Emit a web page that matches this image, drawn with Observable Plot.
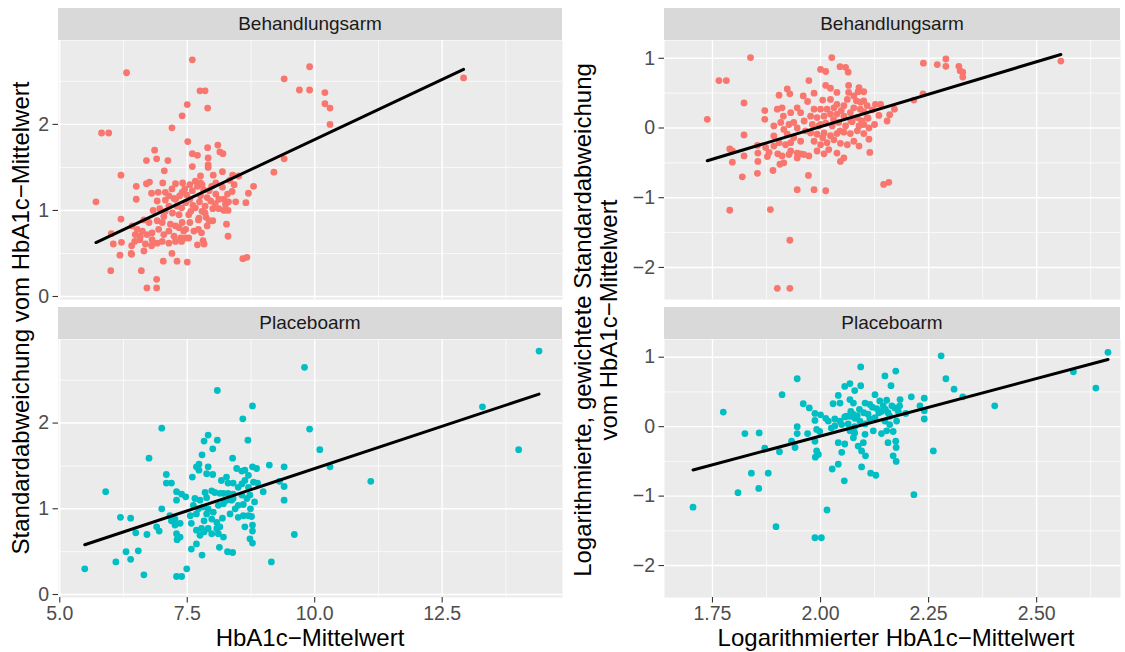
<!DOCTYPE html>
<html><head><meta charset="utf-8">
<script src="https://cdn.jsdelivr.net/npm/d3@7"></script>
<script src="https://cdn.jsdelivr.net/npm/@observablehq/plot@0.6"></script>
<style>
body{margin:0;background:#fff;}
#chart{position:relative;width:1125px;height:652px;overflow:hidden;font-family:"Liberation Sans",Arial,sans-serif;background:#fff;}
.strip{position:absolute;background:#D9D9D9;color:#1A1A1A;font-size:19px;display:flex;align-items:center;justify-content:center;}
.title{position:absolute;color:#000;font-size:24px;white-space:pre;text-align:center;line-height:26px;}
</style></head><body><div id="chart"></div>
<script>
// ---------- data ----------
const facetLabels = ["Behandlungsarm", "Placeboarm"];
const xTitleLeft = "HbA1c\u2212Mittelwert";
const yTitleLeft = "Standardabweichung vom HbA1c\u2212Mittelwert";
const xTitleRight = "Logarithmierter HbA1c\u2212Mittelwert";
const yTitleRight = "Logarithmierte, gewichtete Standardabweichung\nvom HbA1c\u2212Mittelwert";

const leftXTicks = [5, 7.5, 10, 12.5];
const leftXMinor = [6.25, 8.75, 11.25, 13.75];
const leftYTicks = [0, 1, 2];
const leftYMinor = [0.5, 1.5, 2.5];
const rightXTicks = [1.75, 2.0, 2.25, 2.5];
const rightXMinor = [1.875, 2.125, 2.375, 2.625];
const rightYTicks = [-2, -1, 0, 1];
const rightYMinor = [-1.5, -0.5, 0.5];

// HbA1c mean vs SD, treatment arm
const behandlung = [
[5.71,1.10],[5.82,1.90],[5.96,1.90],[6.31,2.60],[7.60,2.75],[7.75,2.39],[7.85,2.39],[7.50,2.23],[7.90,2.19],[7.40,2.10],
[7.20,1.96],[9.40,2.53],[9.90,2.67],[9.70,2.40],[9.90,2.40],[10.20,2.37],[10.20,2.24],[10.30,2.19],[10.30,2.00],[12.92,2.54],
[9.40,1.60],[9.20,1.445],[8.80,1.28],[8.70,1.20],[8.65,1.09],[8.59,0.44],[8.67,0.455],[6.20,1.41],[6.20,0.90],[6.01,0.73],
[6.05,0.61],[6.18,0.48],[6.00,0.30],[6.71,0.10],[6.90,0.10],[6.90,0.20],[6.60,0.30],[7.03,0.41],[7.30,0.41],[7.50,0.40],
[7.20,0.50],[6.40,0.50],[8.30,0.70],[8.27,0.84],[8.30,1.00],
[7.51,1.80],[6.86,1.70],[6.70,1.58],[6.90,1.60],[7.12,1.58],[7.05,1.46],[7.60,1.66],[7.70,1.64],[7.90,1.73],[8.10,1.76],
[7.91,1.61],[7.91,1.53],[8.14,1.68],[8.20,1.66],[7.60,1.51],[7.91,1.50],[8.19,1.45],[8.01,1.41],[8.39,1.41],[8.51,1.40],
[7.76,1.40],[7.66,1.34],[6.76,1.33],[6.70,1.31],[6.50,1.28],[6.50,1.13],[6.80,1.20],[6.93,1.21],[7.07,1.21],[7.02,1.32],
[7.27,1.31],[7.41,1.32],[7.55,1.30],[7.70,1.28],[7.79,1.30],[7.98,1.28],[6.91,1.11],[7.07,1.12],[7.24,1.14],[7.40,1.21],
[7.49,1.18],[7.60,1.23],[7.76,1.17],[7.89,1.15],[7.96,1.11],[7.47,1.09],[7.61,1.06],[7.74,1.10],[8.22,1.13],[8.29,1.19],
[8.31,1.10],[8.22,1.00],[8.12,1.02],[8.00,1.02],[7.85,0.97],[7.73,0.91],[7.93,0.88],[7.87,0.92],[7.72,0.89],[7.53,0.95],
[7.55,0.86],[7.47,0.78],[6.83,1.00],[6.96,1.02],[7.07,0.99],[7.21,0.97],[7.34,0.95],[7.04,0.93],[6.65,0.89],[6.75,0.86],
[6.91,0.88],[7.01,0.86],[7.17,0.84],[7.27,0.82],[7.40,0.86],[7.34,0.80],[7.43,0.76],[6.42,0.82],[6.52,0.78],[6.62,0.76],
[6.48,0.72],[6.58,0.70],[6.71,0.72],[6.81,0.74],[6.94,0.78],[7.04,0.72],[7.14,0.76],[7.24,0.70],[7.37,0.68],[7.53,0.68],
[7.63,0.76],[7.72,0.78],[7.81,0.65],[7.70,0.60],[7.83,0.61],[6.80,0.59],[6.68,0.61],[6.65,0.53],[6.41,0.59],[6.41,0.49],
[6.21,0.63],[7.30,1.05],[7.39,1.03],[7.14,1.05],[7.27,1.13],[7.14,1.17],[7.57,0.99],[7.66,1.03],[7.79,0.99],[8.06,1.19],
[8.12,1.13],[7.93,1.23],[7.76,1.32],[8.06,1.32],[8.19,1.27],[7.89,0.82],[8.00,0.88],[7.78,0.74],[7.01,0.64],[7.14,0.62],
[7.27,0.64],[6.47,0.64],[6.57,0.66],[6.81,0.66],[6.91,0.62],[7.39,0.64],[7.47,0.68],
[7.20,1.25],[7.35,1.17],[7.45,1.25],[7.85,1.05],[8.05,1.08],[8.25,1.07],[7.55,1.13],[7.82,1.24],[8.45,1.10],[8.38,1.22],
[8.42,1.30],[8.33,1.35]
];

// HbA1c mean vs SD, placebo arm
const placebo = [
[5.49,0.30],[5.90,1.20],[6.10,0.38],[6.19,0.90],[6.39,0.89],[6.30,0.50],[6.39,0.41],[6.54,0.51],[6.49,0.72],[6.71,0.70],
[6.65,0.23],[6.75,1.59],[7.00,1.94],[7.00,1.00],[6.90,0.79],[6.95,0.74],[7.09,1.40],[7.09,1.30],[7.19,1.30],[7.29,1.20],
[7.29,1.10],[7.39,1.17],[7.47,1.14],[7.16,0.92],[7.26,0.88],[7.19,0.86],[7.36,0.83],[7.26,0.81],[7.29,0.71],[7.30,0.64],
[7.36,0.67],[7.29,0.21],[7.39,0.21],[7.49,0.30],[7.60,1.37],[7.68,1.49],[7.73,1.52],[7.73,1.45],[7.91,1.49],[7.88,1.41],
[8.00,1.40],[7.79,1.63],[7.83,1.79],[7.91,1.86],[8.00,1.70],[8.09,1.80],[8.09,2.38],[7.65,1.12],[7.75,1.10],[7.85,1.19],
[7.88,1.13],[7.98,1.21],[8.04,1.19],[8.14,1.18],[8.21,1.18],[8.30,1.18],[8.40,1.17],[7.62,1.04],[7.72,1.00],[7.81,1.02],
[7.91,1.00],[8.01,0.96],[8.11,1.04],[8.21,1.06],[8.27,1.10],[8.37,1.10],[7.56,0.92],[7.68,0.94],[7.88,0.94],[7.98,0.88],
[8.08,0.84],[7.58,0.83],[7.68,0.75],[7.78,0.77],[7.83,0.86],[7.75,0.69],[7.83,0.73],[7.68,0.59],[7.58,0.53],[7.79,0.46],
[8.08,0.77],[8.11,0.71],[8.21,0.67],[8.13,0.55],[8.29,0.50],[8.39,0.49],[8.17,1.33],[8.27,1.37],[8.30,1.30],[8.39,1.59],
[8.47,1.47],[8.57,1.44],[8.63,1.45],[8.70,1.39],[8.63,1.33],[8.40,1.30],[8.50,1.25],[8.57,1.29],[8.59,2.05],[8.69,1.80],
[8.78,2.20],[8.78,1.49],[8.86,1.47],[9.11,1.51],[8.80,1.31],[8.88,1.30],[8.99,1.20],[8.70,1.25],[8.73,1.16],[8.67,1.12],
[8.57,1.16],[8.60,1.05],[8.50,1.04],[8.40,1.12],[8.44,1.00],[8.34,0.94],[8.50,0.90],[8.60,0.92],[8.70,0.92],[8.76,0.91],
[8.74,1.00],[8.82,1.08],[8.63,0.79],[8.78,0.81],[8.78,0.74],[8.73,0.65],[8.78,0.60],[9.15,0.38],[8.19,0.89],[8.14,0.79],
[7.91,0.77],[7.98,0.71],
[9.80,2.65],[9.90,1.93],[10.10,1.69],[10.30,1.49],[9.60,0.70],[9.40,1.49],[9.40,1.26],[9.40,1.10],[9.31,1.32],[11.10,1.32],
[13.29,2.19],[14.00,1.69],[14.40,2.84]
];

// log HbA1c mean vs log weighted SD, treatment arm
const logBehandlung = [
[1.738,0.125],[1.765,0.68],[1.782,0.68],[1.838,1.01],[1.823,0.36],[1.823,-0.10],[1.79,-0.30],[1.796,-0.33],[1.796,-0.49],[1.823,-0.40],
[1.819,-0.70],[1.79,-1.18],[1.854,-0.25],[1.854,-0.65],[1.855,-0.36],[1.855,-0.48],[1.871,0.25],[1.871,0.125],[1.884,-1.17],[1.89,-0.61],
[1.892,-0.115],[1.904,0.47],[1.923,0.56],[1.929,0.49],[1.90,0.27],[1.911,0.29],[1.929,-1.61],[1.90,-2.30],[1.929,-2.30],[1.873,-0.28],
[1.881,-0.35],[1.877,-0.41],[1.901,-0.37],[1.911,-0.40],[1.906,-0.52],[1.915,-0.50],[1.892,-0.26],[1.904,-0.21],[1.919,-0.24],[1.914,0.17],
[1.931,0.22],[1.946,0.29],[1.96,0.46],[1.954,0.22],[1.938,0.08],[1.927,0.05],[1.946,0.0],[1.965,-0.04],[1.923,-0.09],[1.938,-0.14],
[1.954,-0.19],[1.931,-0.33],[1.946,-0.36],[1.961,-0.38],[1.973,-0.40],[1.931,-0.21],[1.973,0.68],[1.946,-0.885],[1.972,-0.68],[1.985,-0.885],
[2.012,-0.90],[2.0,0.84],[2.012,0.81],[2.026,1.01],[2.012,0.61],[2.023,0.57],[2.038,0.51],[2.045,0.88],[2.058,0.87],[2.064,0.80],
[2.065,0.61],[2.065,0.51],[2.077,0.46],[2.089,0.58],[2.10,0.52],[2.10,0.39],[2.083,0.39],[2.062,0.41],[2.023,0.41],[2.038,0.34],
[2.054,0.32],[2.077,0.29],[2.092,0.27],[2.108,0.32],[2.127,0.34],[2.139,0.34],[2.171,0.27],[2.16,0.19],[2.154,0.10],[2.108,0.15],
[2.10,0.05],[2.112,0.0],[2.112,-0.16],[2.114,-0.35],[2.146,-0.81],[2.158,-0.78],[1.985,0.27],[2.0,0.27],[2.015,0.27],[2.031,0.29],
[1.977,0.17],[1.992,0.15],[2.008,0.17],[2.023,0.20],[2.038,0.20],[2.054,0.17],[2.069,0.22],[2.085,0.15],[1.981,0.05],[1.996,0.03],
[2.012,0.07],[2.027,0.03],[2.042,0.08],[2.058,0.03],[2.073,0.09],[2.089,0.03],[1.977,-0.07],[1.992,-0.09],[2.008,-0.07],[2.023,-0.11],
[2.038,-0.08],[2.054,-0.06],[2.069,-0.08],[2.085,-0.04],[2.10,-0.08],[1.985,-0.19],[2.0,-0.24],[2.015,-0.21],[2.031,-0.17],[2.046,-0.22],
[2.062,-0.24],[2.077,-0.19],[2.089,-0.26],[1.992,-0.33],[2.008,-0.37],[2.019,-0.31],[2.038,-0.36],[2.054,-0.43],[2.046,-0.48],[1.908,0.08],
[1.915,-0.02],[1.892,0.03],[1.927,-0.38],[1.946,-0.43],[1.954,-0.37],
[2.216,0.40],[2.237,0.49],[2.238,0.93],[2.27,0.91],[2.29,0.99],[2.29,0.885],[2.32,0.885],[2.323,0.82],[2.329,0.80],[2.329,0.73],
[2.556,0.96],[2.11,0.14],[2.10,0.23],[2.093,0.37],[2.087,0.52],
[1.962,0.10],[1.970,0.38],[1.985,0.50],[2.005,0.40],[2.030,0.12],[2.048,0.25],[2.070,0.10],[2.095,0.10],[2.120,0.26],
[2.005,-0.14],[2.000,0.05],[2.045,-0.04],[2.125,0.05],[2.135,0.18]
];

// log HbA1c mean vs log weighted SD, placebo arm
const logPlacebo = [
[1.705,-1.16],[1.775,0.21],[1.825,-0.10],[1.858,-0.09],[1.84,-0.67],[1.879,-0.67],[1.809,-0.95],[1.857,-0.89],[1.897,-1.44],[1.871,-0.31],
[1.905,-0.36],[1.911,0.46],[1.946,0.69],[1.933,-0.21],[1.941,-0.30],[1.946,0.0],[1.946,-0.10],[1.96,0.33],[1.974,0.27],[1.97,-0.10],
[1.987,0.19],[1.987,0.09],[2.0,0.17],[2.012,0.12],[1.991,-0.04],[1.998,-0.07],[1.987,-0.21],[1.991,-0.35],[1.995,-0.40],[1.988,-0.44],
[2.027,-0.61],[2.041,-0.54],[2.015,-1.20],[1.987,-1.60],[2.002,-1.60],[2.055,-0.78],[2.029,0.33],[2.041,0.45],[2.056,0.58],[2.068,0.62],
[2.079,0.52],[2.093,0.86],[2.093,0.59],[2.045,0.34],[2.068,0.39],[2.076,0.34],[2.033,0.11],[2.045,0.08],[2.056,0.14],[2.068,0.15],
[2.079,0.12],[2.033,0.01],[2.049,0.03],[2.064,0.04],[2.079,0.0],[2.025,-0.02],[2.018,0.08],[2.091,0.08],[2.103,0.04],[2.114,0.11],
[2.126,0.13],[2.103,0.34],[2.114,0.32],[2.126,0.46],[2.137,0.37],[2.153,0.38],[2.149,0.73],[2.174,0.80],[2.163,0.59],[2.141,0.22],
[2.156,0.20],[2.172,0.27],[2.183,0.30],[2.149,0.08],[2.16,0.03],[2.176,0.08],[2.068,-0.06],[2.079,-0.09],[2.076,-0.16],[2.041,-0.23],
[2.056,-0.25],[2.049,-0.37],[2.087,-0.28],[2.099,-0.23],[2.095,-0.35],[2.104,-0.42],[2.103,-0.11],[2.122,-0.06],[2.141,-0.10],[2.153,-0.06],
[2.168,-0.07],[2.156,-0.23],[2.174,-0.21],[2.175,-0.30],[2.168,-0.42],[2.175,-0.50],[2.095,-0.58],[2.116,-0.67],[2.128,-0.70],[2.184,0.39],
[2.197,0.19],[2.21,0.43],[2.23,0.30],[2.24,0.41],[2.24,0.23],[2.24,0.11],[2.261,-0.35],[2.216,-0.98],[2.279,1.02],
[2.29,0.69],[2.309,0.54],[2.329,0.43],[2.403,0.30],[2.585,0.79],[2.637,0.555],[2.665,1.07],
[2.060,0.15],[2.075,0.18],[2.085,0.16],[2.110,0.18],[2.135,0.20],[2.150,0.25],[2.165,0.30],[2.090,0.25],[2.120,0.28],[2.160,0.15],
[2.070,0.22],[2.100,0.20],[2.130,0.26],[2.145,0.30],[2.180,0.22]
];

const colors = {"Behandlungsarm": "#F8766D", "Placeboarm": "#00BFC4"};

// ---------- drawing ----------
const chart = document.getElementById("chart");
const minus = d => (d < 0 ? "\u2212" + Math.abs(d) : String(d));

function facet(o) {
  const marks = [
    Plot.frame({fill: "#EBEBEB", stroke: "none"}),
    Plot.gridX(o.xMinor, {stroke: "#fff", strokeOpacity: 1, strokeWidth: 0.7}),
    Plot.gridY(o.yMinor, {stroke: "#fff", strokeOpacity: 1, strokeWidth: 0.7}),
    Plot.gridX(o.xMajor, {stroke: "#fff", strokeOpacity: 1, strokeWidth: 1.4}),
    Plot.gridY(o.yMajor, {stroke: "#fff", strokeOpacity: 1, strokeWidth: 1.4}),
    Plot.axisY(o.yMajor, {tickSize: 5.5, tickPadding: 4, fontSize: 19.5, stroke: "#333333", fill: "#4D4D4D", strokeWidth: 1.1, tickFormat: o.yFmt, label: null}),
    Plot.dot(o.data, {x: d => d[0], y: d => d[1], r: 3.4, fill: o.color, stroke: "none"}),
    Plot.linearRegressionY(o.data, {x: d => d[0], y: d => d[1], ci: 0, stroke: "#000", strokeWidth: 3})
  ];
  if (o.showX) marks.push(Plot.axisX(o.xMajor, {tickSize: 5.5, tickPadding: 3, fontSize: 19.5, stroke: "#333333", fill: "#4D4D4D", strokeWidth: 1.1, tickFormat: o.xFmt, label: null}));
  const svg = Plot.plot({
    width: o.width, height: o.height,
    marginLeft: o.mL, marginRight: 0, marginTop: 0, marginBottom: o.mB,
    x: {domain: o.xDomain, axis: o.showX ? undefined : null},
    y: {domain: o.yDomain},
    style: {fontFamily: "'Liberation Sans', Arial, sans-serif", background: "none", overflow: "visible"},
    marks
  });
  svg.style.position = "absolute";
  svg.style.left = o.left + "px";
  svg.style.top = o.top + "px";
  chart.appendChild(svg);
}

function strip(text, left, top, width, height) {
  const d = document.createElement("div");
  d.className = "strip";
  Object.assign(d.style, {left: left + "px", top: top + "px", width: width + "px", height: height + "px"});
  d.textContent = text;
  chart.appendChild(d);
}

function title(text, cx, cy, rotate) {
  const d = document.createElement("div");
  d.className = "title";
  d.textContent = text;
  Object.assign(d.style, {left: cx + "px", top: cy + "px", transform: "translate(-50%,-50%)" + (rotate ? " rotate(-90deg)" : "")});
  chart.appendChild(d);
}

const L = {xDomain: [4.975, 14.86], yDomain: [-0.035, 2.975], xMajor: leftXTicks, xMinor: leftXMinor, yMajor: leftYTicks, yMinor: leftYMinor,
  xFmt: d3.format(".1f"), yFmt: minus, width: 562, mL: 58, left: 0};
const R = {xDomain: [1.639, 2.694], yDomain: [-2.46, 1.255], xMajor: rightXTicks, xMinor: rightXMinor, yMajor: rightYTicks, yMinor: rightYMinor,
  xFmt: d3.format(".2f"), yFmt: minus, width: 550, mL: 94, left: 570};

facet({...L, data: behandlung, color: colors[facetLabels[0]], showX: false, height: 259, mB: 0, top: 40});
facet({...L, data: placebo, color: colors[facetLabels[1]], showX: true, height: 290, mB: 32, top: 339});
facet({...R, data: logBehandlung, color: colors[facetLabels[0]], showX: false, height: 259, mB: 0, top: 40});
facet({...R, data: logPlacebo, color: colors[facetLabels[1]], showX: true, height: 290, mB: 32, top: 339});

strip(facetLabels[0], 58, 8, 504, 32);
strip(facetLabels[1], 58, 306.7, 504, 32.3);
strip(facetLabels[0], 664, 8, 456, 32);
strip(facetLabels[1], 664, 306.7, 456, 32.3);

title(xTitleLeft, 310, 638, false);
title(xTitleRight, 896, 638, false);
title(yTitleLeft, 21, 318, true);
title(yTitleRight, 596, 320, true);
</script></body></html>
